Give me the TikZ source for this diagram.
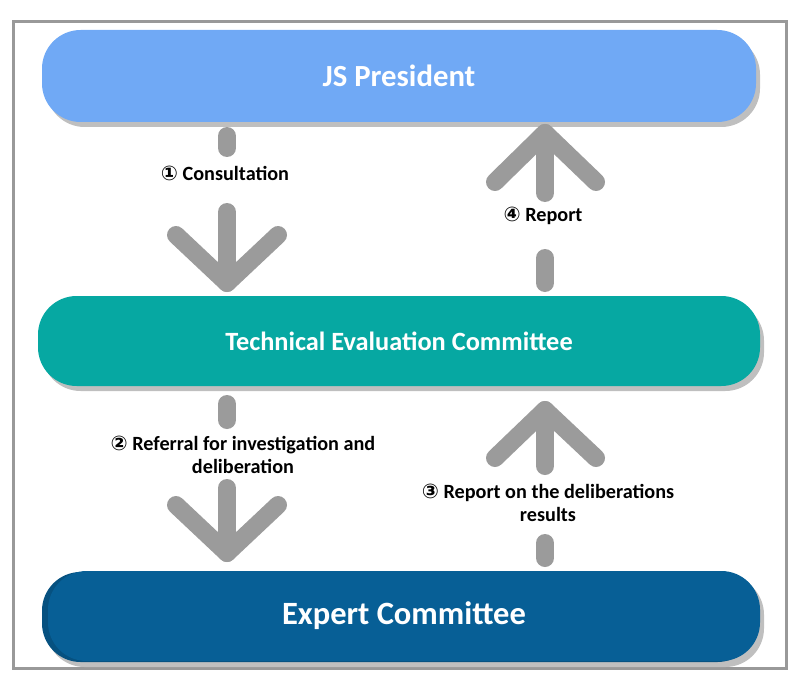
\documentclass[tikz,border=0pt]{standalone}
\usepackage{fontspec}
\setmainfont{Carlito}
\newfontfamily\symfont{DejaVu Sans}
\usetikzlibrary{positioning}
\definecolor{presblue}{HTML}{70A9F5}
\definecolor{techteal}{HTML}{06A8A2}
\definecolor{expblue}{HTML}{075F96}
\definecolor{arrowgray}{HTML}{9B9B9B}
\begin{document}
\begin{tikzpicture}
		[x=0.02cm,y=-0.02cm,
		pill/.style ={rounded corners=22pt, text=white, font=\bfseries, minimum height=92*0.02cm},
		shade/.style ={fill=black!25, rounded corners=22pt, draw=none},
		shaft/.style ={draw=arrowgray, line width=18*0.02cm, line cap=round},
		chevron/.style ={shaft, line join=round},
		lbl/.style ={font=\bfseries\fontsize{11.5}{13}\selectfont, align=center},
		]
		\useasboundingbox (0,0) rectangle (800,699);
		\draw[black!40, line width=3*0.02cm] (13,22) rectangle (786,668);

		% boxes
		\fill[shade] (46,36) rectangle (760,127);
		\node[pill, fill=presblue, minimum width=714*0.02cm, font=\bfseries\fontsize{17.5}{20}\selectfont] (President) at (399,76) {JS President};
		\fill[shade] (42,302) rectangle (764,391);
		\node[pill, fill=techteal, minimum width=722*0.02cm, minimum height=90*0.02cm, font=\bfseries\fontsize{15}{18}\selectfont] (Technical) at (399,341) {Technical Evaluation Committee};
		\fill[shade] (46,576) rectangle (764,667);
		\fill[expblue!85!black, rounded corners=22pt] (42,572) rectangle (756,662);
		\node[pill, fill=expblue, minimum width=712*0.02cm, minimum height=90*0.02cm, font=\bfseries\fontsize{18.5}{22}\selectfont] (Expert) at (404,616) {Expert Committee};

		% labels
		\node[lbl] (consult) at (225,173) {{\symfont ①} Consultation};
		\node[lbl] (report) at (543,216) {{\symfont ④} Report};
		\node[lbl] (referral) at (243,455) {{\symfont ②} Referral for investigation and\\deliberation};
		\node[lbl] (results) at (548,503) {{\symfont ③} Report on the deliberations\\results};

		% arrows
		\coordinate (a1s) at (227,136); \coordinate (a1b) at (227,148);
		\coordinate (a1c) at (227,212); \coordinate (a1t) at (227,283);
		\draw[shaft] (a1s) -- (a1b); \draw[shaft] (a1c) -- (a1t);
		\draw[chevron] (176,235) -- (a1t) -- (278,235);

		\coordinate (a4t) at (545,133); \coordinate (a4c) at (545,193);
		\coordinate (a4b) at (545,258); \coordinate (a4s) at (545,283);
		\draw[shaft] (a4t) -- (a4c); \draw[shaft] (a4b) -- (a4s);
		\draw[chevron] (495,182) -- (a4t) -- (596,182);

		\coordinate (a2s) at (227,404); \coordinate (a2b) at (227,420);
		\coordinate (a2c) at (227,488); \coordinate (a2t) at (227,553);
		\draw[shaft] (a2s) -- (a2b); \draw[shaft] (a2c) -- (a2t);
		\draw[chevron] (176,505) -- (a2t) -- (278,505);

		\coordinate (a3t) at (545,410); \coordinate (a3c) at (545,466);
		\coordinate (a3b) at (545,543); \coordinate (a3s) at (545,558);
		\draw[shaft] (a3t) -- (a3c); \draw[shaft] (a3b) -- (a3s);
		\draw[chevron] (495,458) -- (a3t) -- (596,458);
	\end{tikzpicture}
\end{document}
